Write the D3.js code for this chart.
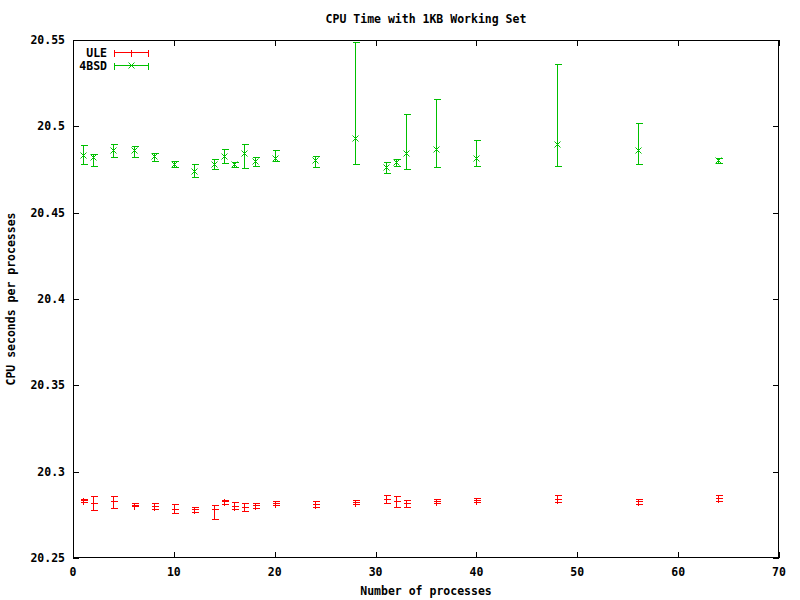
<!DOCTYPE html>
<html><head><meta charset="utf-8">
<script src="https://d3js.org/d3.v7.min.js"></script>
<style>
body{margin:0;background:#fff;}
svg text{font-family:"DejaVu Sans Mono",monospace;font-size:11.5px;font-weight:bold;fill:#000;}
</style></head>
<body><svg id="c" width="800" height="600"></svg>
<script>
const procs = [1,2,4,6,8,10,12,14,15,16,17,18,20,24,28,31,32,33,36,40,48,56,64];
const uleMean = [20.2834,20.2819,20.2831,20.2809,20.2800,20.2784,20.2782,20.2784,20.2831,20.2804,20.2798,20.2809,20.2819,20.2811,20.2825,20.2842,20.2828,20.2817,20.2831,20.2837,20.2844,20.2828,20.2846];
const uleLow  = [20.2825,20.2779,20.2790,20.2802,20.2784,20.2761,20.2767,20.2723,20.2811,20.2781,20.2775,20.2792,20.2808,20.2798,20.2811,20.2821,20.2798,20.2798,20.2817,20.2823,20.2823,20.2813,20.2828];
const uleHigh = [20.2844,20.2860,20.2860,20.2817,20.2817,20.2813,20.2798,20.2808,20.2838,20.2823,20.2819,20.2821,20.2828,20.2828,20.2837,20.2865,20.2860,20.2837,20.2844,20.2850,20.2863,20.2842,20.2863];
const bsdMean = [20.4836,20.4823,20.4861,20.4865,20.4827,20.4784,20.4740,20.4779,20.4831,20.4780,20.4848,20.4800,20.4819,20.4807,20.4935,20.4765,20.4794,20.4848,20.4867,20.4819,20.4900,20.4865,20.4803];
const bsdLow  = [20.4779,20.4773,20.4825,20.4825,20.4802,20.4767,20.4709,20.4750,20.4790,20.4763,20.4756,20.4773,20.4798,20.4763,20.4779,20.4727,20.4773,20.4750,20.4767,20.4773,20.4773,20.4779,20.4790];
const bsdHigh = [20.4894,20.4842,20.4900,20.4886,20.4848,20.4802,20.4779,20.4808,20.4871,20.4796,20.4900,20.4823,20.4865,20.4828,20.5487,20.4794,20.4813,20.5073,20.5160,20.4923,20.5362,20.5021,20.4819];
const xTicks = [0,10,20,30,40,50,60,70];
const yTicks = [20.25,20.3,20.35,20.4,20.45,20.5,20.55];
const seriesNames = ["ULE","4BSD"];
const seriesColors = ["#ff0000","#00c000"];

const svg = d3.select("#c");
const L=73, R=779, T=40, B=558;
const x = d3.scaleLinear().domain([0,70]).range([L,R]);
const y = d3.scaleLinear().domain([20.25,20.55]).range([B,T]);
const cr = v => Math.round(v)+0.5;

const g = svg.append("g").attr("shape-rendering","crispEdges");

// title
svg.append("text").attr("x",(L+R)/2).attr("y",23).attr("text-anchor","middle").text("CPU Time with 1KB Working Set");

// ticks (inward, mirrored)
xTicks.forEach(t=>{
  const px=cr(x(t));
  g.append("line").attr("x1",px).attr("x2",px).attr("y1",B).attr("y2",B-6).attr("stroke","#000");
  g.append("line").attr("x1",px).attr("x2",px).attr("y1",T).attr("y2",T+6).attr("stroke","#000");
  svg.append("text").attr("x",x(t)).attr("y",B+18).attr("text-anchor","middle").text(d3.format("d")(t));
});
yTicks.forEach(t=>{
  const py=cr(y(t));
  g.append("line").attr("x1",L).attr("x2",L+6).attr("y1",py).attr("y2",py).attr("stroke","#000");
  g.append("line").attr("x1",R).attr("x2",R-6).attr("y1",py).attr("y2",py).attr("stroke","#000");
  svg.append("text").attr("x",L-8).attr("y",y(t)+4).attr("text-anchor","end").text(d3.format(".2f")(t).replace(/0$/,"").replace(/\.$/,""));
});
g.append("rect").attr("x",L+0.5).attr("y",T+0.5).attr("width",R-L-1).attr("height",B-T-1).attr("fill","none").attr("stroke","#000");

svg.append("text").attr("x",(L+R)/2).attr("y",595).attr("text-anchor","middle").text("Number of processes");
svg.append("text").attr("transform",`translate(15,${(T+B)/2}) rotate(-90)`).attr("text-anchor","middle").text("CPU seconds per processes");

function drawSeries(mean,low,high,color,sym){
  const sg = g.append("g").attr("stroke",color).attr("fill","none");
  procs.forEach((p,i)=>{
    const px=cr(x(p)), yl=cr(y(low[i])), yh=cr(y(high[i])), ym=cr(y(mean[i]));
    sg.append("line").attr("x1",px).attr("x2",px).attr("y1",yl).attr("y2",yh);
    sg.append("line").attr("x1",px-3).attr("x2",px+4).attr("y1",yl).attr("y2",yl);
    sg.append("line").attr("x1",px-3).attr("x2",px+4).attr("y1",yh).attr("y2",yh);
    drawSym(sg,px,ym,sym);
  });
}
function drawSym(sg,px,py,sym){
  if(sym==="+"){
    sg.append("line").attr("x1",px-3).attr("x2",px+4).attr("y1",py).attr("y2",py);
    sg.append("line").attr("x1",px).attr("x2",px).attr("y1",py-3).attr("y2",py+4);
  } else {
    sg.append("path").attr("d",`M${px-3},${py-3}L${px+3},${py+3}M${px-3},${py+3}L${px+3},${py-3}`).attr("shape-rendering","auto");
  }
}
drawSeries(uleMean,uleLow,uleHigh,seriesColors[0],"+");
drawSeries(bsdMean,bsdLow,bsdHigh,seriesColors[1],"x");

// legend
seriesNames.forEach((n,i)=>{
  const ly = cr(52+i*13);
  svg.append("text").attr("x",107).attr("y",ly+4).attr("text-anchor","end").text(n);
  const lg = g.append("g").attr("stroke",seriesColors[i]);
  lg.append("line").attr("x1",114).attr("x2",149).attr("y1",ly).attr("y2",ly);
  lg.append("line").attr("x1",114.5).attr("x2",114.5).attr("y1",ly-3).attr("y2",ly+4);
  lg.append("line").attr("x1",148.5).attr("x2",148.5).attr("y1",ly-3).attr("y2",ly+4);
  drawSym(lg,131.5,ly,i===0?"+":"x");
});
</script></body></html>
